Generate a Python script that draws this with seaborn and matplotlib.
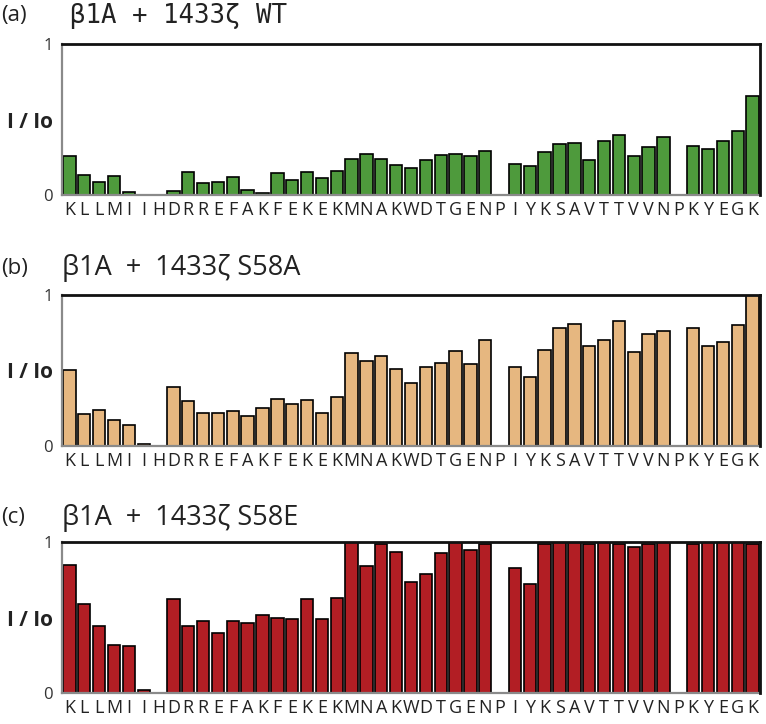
import numpy as np
import pandas as pd
import matplotlib
matplotlib.use("Agg")
import matplotlib.pyplot as plt
import seaborn as sns

residues = list("KLLMIIHDRREFAKFEKEKMNAKWDTGENPIYKSAVTTVVNPKYEGK")

wt = [0.26, 0.135, 0.086, 0.126, 0.022, 0.0, 0.0, 0.026, 0.155, 0.08,
      0.088, 0.12, 0.035, 0.015, 0.146, 0.10, 0.15, 0.11, 0.16, 0.24,
      0.274, 0.238, 0.20, 0.18, 0.23, 0.265, 0.27, 0.26, 0.294, 0.0,
      0.207, 0.19, 0.285, 0.338, 0.342, 0.23, 0.355, 0.40, 0.258, 0.316,
      0.382, 0.0, 0.322, 0.305, 0.358, 0.426, 0.656]

s58a = [0.504, 0.215, 0.239, 0.175, 0.139, 0.015, 0.0, 0.389, 0.296, 0.219,
        0.219, 0.235, 0.199, 0.254, 0.314, 0.279, 0.303, 0.221, 0.327, 0.619,
        0.56, 0.593, 0.513, 0.418, 0.52, 0.55, 0.626, 0.54, 0.70, 0.0,
        0.524, 0.456, 0.635, 0.78, 0.81, 0.66, 0.70, 0.83, 0.624, 0.739,
        0.761, 0.0, 0.779, 0.664, 0.69, 0.80, 1.0]

s58e = [0.85, 0.592, 0.446, 0.316, 0.311, 0.018, 0.0, 0.625, 0.444, 0.475,
        0.395, 0.475, 0.461, 0.514, 0.499, 0.492, 0.62, 0.492, 0.627, 1.0,
        0.84, 0.99, 0.934, 0.737, 0.786, 0.929, 1.0, 0.95, 0.99, 0.0,
        0.83, 0.724, 0.99, 1.0, 1.0, 0.99, 1.0, 0.99, 0.97, 0.99,
        1.0, 0.0, 0.99, 1.0, 1.0, 1.0, 0.99]

panel_tags = ["(a)", "(b)", "(c)"]
panel_titles = ["β1A + 1433ζ WT", "β1A  +  1433ζ S58A", "β1A  +  1433ζ S58E"]
colors = ["#4e9a3c", "#e6b780", "#b21e24"]

sns.set_style("white")
plt.rcParams['font.family'] = ['Open Sans', 'DejaVu Sans']
narrow = ['Liberation Sans Narrow', 'Open Sans', 'DejaVu Sans']

W, H = 766, 724
fig = plt.figure(figsize=(W / 100, H / 100), dpi=100)

# axes boxes in pixels: top, bottom
boxes = [(44, 195), (295, 446), (542, 693)]
left_px, right_px = 62, 760
title_y = [16, 268, 518]

for i, vals in enumerate([wt, s58a, s58e]):
    top, bot = boxes[i]
    ax = fig.add_axes([left_px / W, 1 - bot / H, (right_px - left_px) / W, (bot - top) / H])
    df = pd.DataFrame({"pos": np.arange(len(residues)), "val": vals})
    sns.barplot(data=df, x="pos", y="val", color=colors[i], saturation=1,
                width=0.83, edgecolor="black", linewidth=1.2, ax=ax)
    ax.set_xlim(-0.5, len(residues) - 0.5)
    ax.set_ylim(0, 1)
    ax.set_xlabel("")
    ax.set_ylabel("")
    ax.set_xticks(np.arange(len(residues)))
    ax.set_xticklabels(residues, fontsize=13, color="#222222", family=narrow)
    ax.tick_params(axis="x", which="major", length=0, pad=4)
    ax.set_xticks(np.arange(len(residues)) + 0.5, minor=True)
    ax.tick_params(axis="x", which="minor", length=4, color="#999999", width=1)
    ax.set_yticks([0, 0.5, 1])
    ax.set_yticklabels(["0", "I / Io", "1"])
    ax.tick_params(axis="y", length=3, color="#888888", labelsize=12, labelcolor="#333333")
    lbl = ax.get_yticklabels()[1]
    lbl.set_fontweight("bold")
    lbl.set_fontsize(15)
    lbl.set_family(narrow)
    lbl.set_color("#222222")
    for s in ["left", "bottom"]:
        ax.spines[s].set_color("#8a8a8a")
        ax.spines[s].set_linewidth(1.6)
    for s in ["top", "right"]:
        ax.spines[s].set_color("#111111")
        ax.spines[s].set_linewidth(2)
        ax.spines[s].set_zorder(5)

    fig.text(1 / W, 1 - title_y[i] / H, panel_tags[i], fontsize=16,
             va="center", ha="left", color="#222222")
    if i == 0:
        fig.text(70 / W, 1 - title_y[i] / H, panel_titles[i], fontsize=18.5,
                 family=["DejaVu Sans Mono"], va="center", ha="left", color="#222222")
    else:
        fig.text(62 / W, 1 - title_y[i] / H, panel_titles[i], fontsize=19.5,
                 va="center", ha="left", color="#222222")

fig.savefig("out.png", dpi=100)
